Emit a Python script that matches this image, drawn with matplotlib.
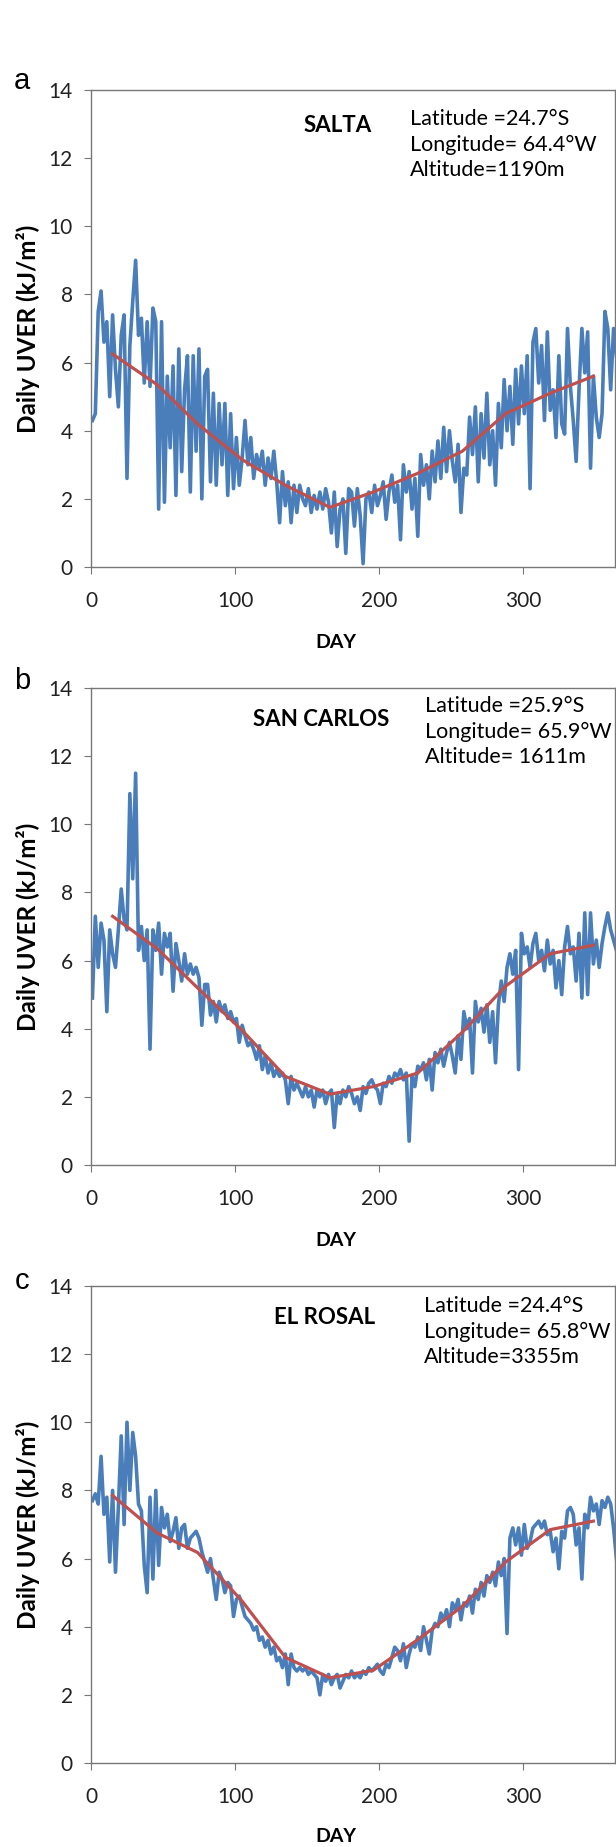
import numpy as np
from matplotlib import pyplot as plt

plt.rcParams['font.family'] = ['Lato', 'DejaVu Sans']

# day of year, every second day
days = np.arange(1, 366, 2)

# SALTA daily UVER
uver_salta = [4.3, 4.5, 7.5, 8.1, 6.6, 7.2, 5.0, 7.4, 5.8, 4.7, 6.8, 7.4, 2.6, 6.5, 7.8, 9.0,
              6.8, 7.3, 5.4, 7.2, 5.3, 7.6, 7.2, 1.7, 7.2, 1.9, 5.6, 3.5, 5.9, 2.1, 6.4, 2.8,
              5.2, 6.2, 2.2, 6.2, 3.4, 6.4, 2.0, 5.6, 5.8, 2.5, 5.1, 2.4, 4.8, 3.0, 4.8, 2.1,
              4.5, 2.3, 3.8, 2.4, 3.2, 4.3, 3.0, 3.8, 2.6, 3.3, 2.9, 3.4, 2.4, 3.2, 2.6, 3.4,
              2.5, 1.3, 2.8, 1.8, 2.5, 1.3, 2.4, 1.6, 2.4, 2.0, 1.8, 2.3, 1.6, 2.1, 1.7, 2.2,
              1.7, 2.3, 1.9, 1.0, 2.2, 0.6, 1.7, 2.0, 0.4, 2.3, 2.2, 1.2, 2.3, 1.5, 0.1, 2.0,
              2.2, 1.6, 2.4, 1.8, 2.1, 2.5, 1.4, 2.2, 2.7, 1.9, 2.4, 0.8, 3.0, 2.2, 2.8, 1.7,
              2.6, 0.9, 3.3, 2.4, 3.0, 2.0, 3.4, 2.5, 3.7, 2.6, 4.1, 2.8, 4.0, 3.1, 2.5, 3.6,
              1.6, 2.9, 2.7, 4.4, 3.3, 4.7, 2.5, 4.5, 3.2, 5.1, 3.0, 4.0, 2.4, 4.8, 3.5, 5.5,
              4.0, 5.3, 3.6, 5.8, 4.2, 5.9, 4.5, 6.2, 2.3, 6.6, 7.0, 5.4, 6.5, 4.3, 6.9, 4.6,
              5.2, 3.8, 6.2, 4.2, 3.9, 7.0, 5.3, 4.3, 3.1, 5.2, 7.0, 5.7, 6.9, 2.9, 5.6, 4.4,
              3.8, 4.5, 7.5, 7.0, 5.2, 7.0, 6.2]

# SAN CARLOS daily UVER
uver_sancarlos = [4.9, 7.3, 5.8, 7.1, 6.6, 4.5, 6.9, 6.2, 5.8, 6.9, 8.1, 7.2, 6.9, 10.9, 8.4, 11.5,
                  6.3, 7.0, 6.0, 6.9, 3.4, 6.9, 6.3, 7.1, 5.6, 6.8, 6.4, 6.8, 5.1, 6.5, 6.0, 5.4,
                  6.2, 5.6, 5.9, 5.6, 5.8, 5.5, 4.1, 5.3, 5.3, 4.4, 4.8, 4.2, 4.8, 4.5, 4.7, 4.3,
                  4.5, 4.2, 4.3, 3.6, 4.1, 3.8, 3.5, 3.6, 3.4, 3.1, 3.5, 2.8, 3.2, 2.7, 3.0, 2.6,
                  2.8, 2.6, 2.7, 2.5, 1.8, 2.6, 2.2, 2.4, 2.2, 2.0, 2.3, 2.0, 2.2, 1.7, 2.2, 2.0,
                  2.2, 1.8, 2.1, 2.2, 1.1, 2.1, 1.8, 2.2, 2.0, 2.3, 2.1, 1.8, 2.0, 1.6, 2.3, 2.1,
                  2.4, 2.5, 2.3, 2.2, 1.8, 2.4, 2.3, 2.6, 2.4, 2.7, 2.6, 2.8, 2.5, 2.7, 0.7, 2.6,
                  2.3, 2.9, 2.8, 3.0, 2.5, 3.1, 2.2, 3.3, 3.0, 3.4, 2.9, 3.3, 3.6, 3.2, 2.7, 3.8,
                  3.1, 4.5, 4.0, 4.3, 2.7, 4.8, 4.2, 4.6, 3.9, 4.7, 3.6, 4.5, 3.0, 4.7, 5.4, 4.8,
                  5.8, 6.2, 5.6, 6.3, 2.8, 6.8, 6.2, 6.4, 5.8, 6.5, 6.8, 6.0, 6.3, 5.7, 6.6, 5.9,
                  6.3, 5.2, 6.0, 5.0, 6.4, 7.0, 6.2, 6.4, 5.4, 6.8, 4.9, 7.4, 5.0, 7.4, 5.9, 6.6,
                  5.8, 6.5, 7.0, 7.4, 6.9, 6.6, 6.3]

# EL ROSAL daily UVER
uver_elrosal = [7.7, 7.9, 7.6, 9.0, 7.3, 7.8, 5.9, 8.0, 5.6, 7.5, 9.6, 7.0, 10.0, 8.0, 9.7, 9.0,
                7.6, 7.4, 5.8, 5.0, 7.8, 5.4, 8.0, 5.8, 7.5, 6.9, 7.3, 6.5, 6.8, 7.2, 6.3, 6.9,
                7.0, 6.3, 6.6, 6.7, 6.8, 6.6, 6.2, 5.9, 5.6, 6.0, 5.4, 4.8, 5.6, 5.4, 5.0, 5.3,
                5.2, 4.3, 4.8, 4.9, 4.6, 4.3, 4.2, 4.1, 3.9, 4.0, 3.6, 3.7, 3.4, 3.6, 3.2, 3.4,
                3.0, 3.1, 2.8, 3.2, 2.3, 3.2, 2.8, 2.7, 2.8, 2.7, 2.8, 2.6, 2.7, 2.6, 2.5, 2.0,
                2.6, 2.4, 2.6, 2.3, 2.5, 2.6, 2.2, 2.4, 2.6, 2.5, 2.7, 2.5, 2.6, 2.5, 2.7, 2.6,
                2.8, 2.7, 2.8, 2.9, 2.7, 2.6, 2.9, 2.8, 3.1, 3.4, 3.3, 3.0, 3.5, 2.8, 3.2, 3.5,
                3.4, 3.7, 3.3, 4.0, 3.6, 3.2, 3.9, 4.1, 4.0, 4.4, 4.2, 4.5, 4.0, 4.7, 4.5, 4.8,
                4.2, 4.7, 4.6, 4.9, 4.4, 5.1, 4.8, 5.3, 4.9, 5.5, 5.3, 5.6, 5.2, 5.9, 5.5, 6.0,
                3.8, 6.6, 6.9, 6.4, 6.9, 6.1, 7.0, 6.3, 6.5, 6.9, 7.0, 7.1, 6.9, 7.1, 6.7, 6.8,
                6.2, 6.6, 5.7, 6.8, 6.6, 7.4, 7.5, 7.3, 6.4, 6.9, 5.4, 7.3, 6.9, 7.8, 7.4, 7.6,
                7.0, 7.7, 7.5, 7.8, 7.6, 6.9, 6.0]

# monthly means (mid-month days)
month_days = [15, 46, 74, 105, 135, 166, 196, 227, 258, 288, 319, 349]
mean_salta = [6.25, 5.35, 4.2, 3.15, 2.4, 1.75, 2.2, 2.75, 3.4, 4.5, 5.1, 5.6]
mean_sancarlos = [7.3, 6.35, 5.2, 3.95, 2.6, 2.08, 2.3, 2.7, 3.9, 5.25, 6.2, 6.45]
mean_elrosal = [7.85, 6.75, 6.18, 4.75, 3.1, 2.5, 2.72, 3.62, 4.6, 5.9, 6.85, 7.1]

stations = ['SALTA', 'SAN CARLOS', 'EL ROSAL']
info = ['Latitude =24.7°S\nLongitude= 64.4°W\nAltitude=1190m',
        'Latitude =25.9°S\nLongitude= 65.9°W\nAltitude= 1611m',
        'Latitude =24.4°S\nLongitude= 65.8°W\nAltitude=3355m']
letters = ['a', 'b', 'c']
daily = [uver_salta, uver_sancarlos, uver_elrosal]
means = [mean_salta, mean_sancarlos, mean_elrosal]

W, H = 616, 1847
fig = plt.figure(figsize=(W / 100, H / 100), dpi=100)

# pixel layout of each panel: axes top, station name (x, y), info (x, y)
tops = [90, 688, 1286]
name_pos = [(338, 126), (321, 719), (325, 1317)]
info_pos = [(410, 109), (425, 696), (424, 1296)]
letter_y = [81, 681, 1281]
day_y = [642, 1240, 1836]

for i in range(3):
    top = tops[i]
    ax = fig.add_axes([91 / W, 1 - (top + 477) / H, 524 / W, 477 / H])
    ax.plot(days, daily[i], color='#4a7ebb', lw=2.6)
    ax.plot(month_days, means[i], color='#c0504d', lw=2.3)
    ax.set_xlim(0, 364)
    ax.set_ylim(0, 14)
    ax.set_xticks([0, 100, 200, 300])
    ax.set_yticks(range(0, 15, 2))
    for s in ax.spines.values():
        s.set_color('#777777')
        s.set_linewidth(1.0)
    ax.tick_params(direction='out', length=5, color='#777777', labelsize=15, labelcolor='#222222')
    ax.tick_params(axis='y', pad=8)
    ax.tick_params(axis='x', pad=12)
    ax.set_ylabel('Daily UVER (kJ/m²)', fontsize=17.5, fontweight='bold', labelpad=6)

    fig.text(name_pos[i][0] / W, 1 - name_pos[i][1] / H, stations[i], fontsize=16,
             fontweight='bold', ha='center', va='center')
    fig.text(info_pos[i][0] / W, 1 - info_pos[i][1] / H, info[i], fontsize=15.5,
             ha='left', va='top', linespacing=1.35)
    fig.text(22 / W, 1 - letter_y[i] / H, letters[i], fontsize=21,
             family='Liberation Sans', ha='center', va='center')
    fig.text(336 / W, 1 - day_y[i] / H, 'DAY', fontsize=14, fontweight='bold',
             ha='center', va='center')

plt.savefig('out.png', dpi=100)
